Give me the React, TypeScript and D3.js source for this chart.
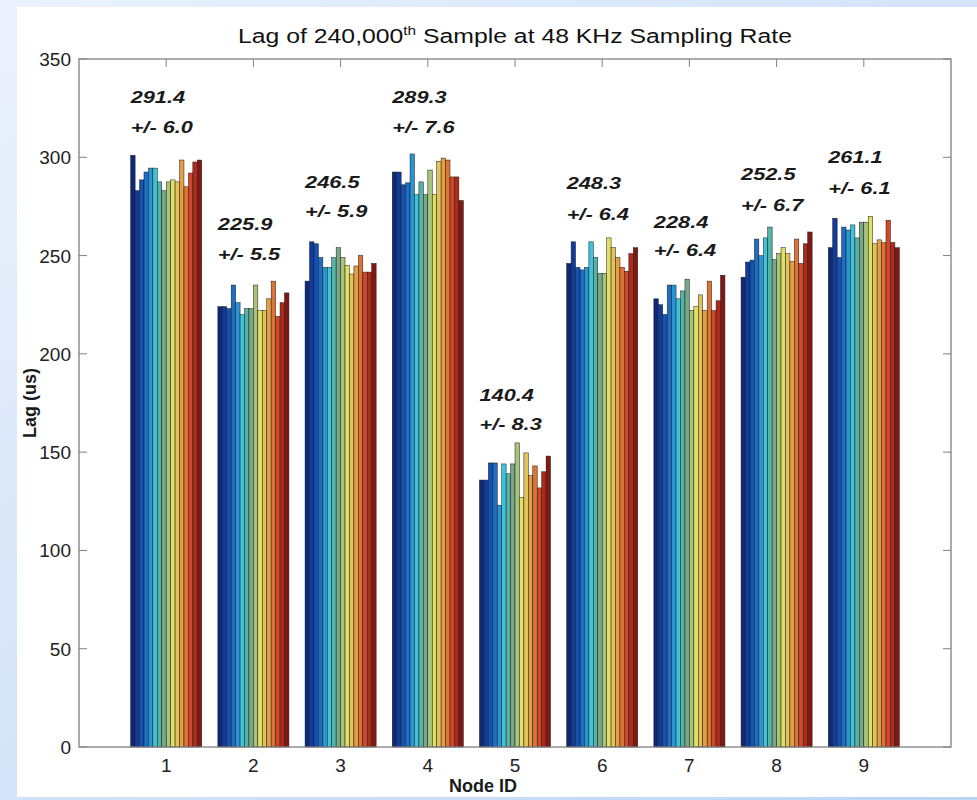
import React from 'react';
import * as d3 from 'd3';

// lag (us) of each of the 16 runs, per node
const node1 = [301, 283, 288.5, 292.5, 294.5, 294.5, 287.5, 283, 287.5, 288.5, 287.5, 298.6, 285, 292, 297.6, 298.6];
const node2 = [224, 224, 223, 235, 226, 220, 223, 223, 235, 222, 222, 228, 237, 219, 226, 231];
const node3 = [237, 257, 256, 249, 244, 244, 249, 254, 249, 245, 240.6, 244.7, 250, 241.6, 241.6, 246];
const node4 = [292.5, 292.5, 286, 287, 301.7, 281, 287.5, 281, 293.5, 281, 298, 299.6, 298.6, 290, 290, 278];
const node5 = [135.8, 135.8, 144.5, 144.5, 123, 144, 139, 144, 154.7, 127, 149.6, 138, 143, 131.8, 140, 148];
const node6 = [246, 257, 244, 242.7, 244, 257, 249, 241, 241, 259, 254, 249, 244, 242, 251, 254];
const node7 = [228, 225, 220, 235, 235, 228, 232, 238, 222, 224, 230, 222, 237, 222, 227, 240];
const node8 = [239, 246.7, 247.7, 258.4, 250, 259, 264.5, 248, 251, 254, 251, 247, 258.4, 246, 256, 262];
const node9 = [254, 269, 249, 264.5, 263, 265.6, 259, 267, 267, 270, 256, 258, 256.6, 268, 256.6, 254];
const nodes = [node1, node2, node3, node4, node5, node6, node7, node8, node9];

const nodeIds = [1, 2, 3, 4, 5, 6, 7, 8, 9];
const meanLabels = ['291.4', '225.9', '246.5', '289.3', '140.4', '248.3', '228.4', '252.5', '261.1'];
const stdLabels = ['+/- 6.0', '+/- 5.5', '+/- 5.9', '+/- 7.6', '+/- 8.3', '+/- 6.4', '+/- 6.4', '+/- 6.7', '+/- 6.1'];
// where the two annotation lines sit, in lag units
const meanLabelAt = [327.6, 263, 284.4, 327.6, 176, 283.9, 264, 288.4, 297.1];
const stdLabelAt = [312.4, 247.7, 269.6, 312.4, 161.3, 268.1, 249.8, 272.7, 281.3];

const yTicks = [0, 50, 100, 150, 200, 250, 300, 350];

// muted jet colormap, 16 steps
const runColors = [
  '#0c2878', '#0f3c9e', '#1452b4', '#1d6ec6', '#2b95d4', '#3cc4dc', '#55b3a8', '#79a887',
  '#a7c47a', '#e2e064', '#e4c45a', '#e49e44', '#de7434', '#d2462a', '#b02a1c', '#821812',
];

const FONT = '"Liberation Sans", Arial, Helvetica, sans-serif';

export default function App() {
  const left = 79, right = 951, top = 59, bottom = 747;

  const x = d3.scaleLinear().domain([0, 10]).range([left, right]);
  const y = d3.scaleLinear().domain([0, 350]).range([bottom, top]);
  const groupW = x(0.815) - x(0);
  const inner = d3.scaleBand<number>()
    .domain(d3.range(16))
    .range([-groupW / 2, groupW / 2])
    .padding(0);

  const axisColor = '#808080';
  const tickLen = 8;

  return (
    <svg width={977} height={800} style={{ position: 'absolute', left: 0, top: 0 }}>
      <defs>
        <linearGradient id="bg" x1="0" y1="0" x2="1" y2="1">
          <stop offset="0%" stopColor="#eaf2fd" />
          <stop offset="100%" stopColor="#bcd5f6" />
        </linearGradient>
      </defs>
      <rect x={0} y={0} width={977} height={800} fill="url(#bg)" />
      <rect x={17} y={7} width={960} height={790} fill="#fff" />

      {/* ticks under the bars */}
      <g stroke={axisColor} strokeWidth={1}>
        {yTicks.map((t) => (
          <g key={'yt' + t}>
            <line x1={left} x2={left + tickLen} y1={y(t)} y2={y(t)} />
            <line x1={right} x2={right - tickLen} y1={y(t)} y2={y(t)} />
          </g>
        ))}
        {nodeIds.map((n) => (
          <g key={'xt' + n}>
            <line x1={x(n)} x2={x(n)} y1={bottom} y2={bottom - tickLen} />
            <line x1={x(n)} x2={x(n)} y1={top} y2={top + tickLen} />
          </g>
        ))}
      </g>

      {/* bars */}
      {nodes.map((runs, gi) => (
        <g key={'g' + gi} transform={`translate(${x(nodeIds[gi])},0)`}>
          {runs.map((v, ri) => (
            <rect
              key={ri}
              x={inner(ri)}
              y={y(v)}
              width={inner.bandwidth()}
              height={y(0) - y(v)}
              fill={runColors[ri]}
              stroke="#1a1a1a"
              strokeWidth={0.5}
            />
          ))}
        </g>
      ))}

      {/* axes box */}
      <rect x={left} y={top} width={right - left} height={bottom - top} fill="none" stroke={axisColor} strokeWidth={1.3} />

      {/* tick labels */}
      <g fontFamily={FONT} fontSize={19} fill="#222">
        {yTicks.map((t) => (
          <text key={'yl' + t} x={left - 8} y={y(t) + 7} textAnchor="end">{t}</text>
        ))}
        {nodeIds.map((n) => (
          <text key={'xl' + n} x={x(n)} y={bottom + 25} textAnchor="middle">{n}</text>
        ))}
      </g>

      {/* annotations */}
      <g fontFamily={FONT} fontSize={17} fontWeight="bold" fontStyle="italic" fill="#1a1a1a">
        {nodeIds.map((n, i) => (
          <g key={'an' + n}>
            <text transform={`translate(${x(n) - groupW / 2},${y(meanLabelAt[i])}) scale(1.28,1)`}>{meanLabels[i]}</text>
            <text transform={`translate(${x(n) - groupW / 2},${y(stdLabelAt[i])}) scale(1.28,1)`}>{stdLabels[i]}</text>
          </g>
        ))}
      </g>

      {/* title */}
      <text transform={`translate(${(left + right) / 2},43) scale(1.18,1)`} textAnchor="middle" fontFamily={FONT} fontSize={21} fill="#111">
        Lag of 240,000<tspan dy={-8} fontSize={13}>th</tspan><tspan dy={8}> Sample at 48 KHz Sampling Rate</tspan>
      </text>

      {/* axis labels */}
      <text transform={`translate(36,${(top + bottom) / 2}) rotate(-90)`} textAnchor="middle" fontFamily={FONT} fontSize={18} fontWeight="bold" fill="#1a1a1a">
        Lag (us)
      </text>
      <text x={483} y={792} textAnchor="middle" fontFamily={FONT} fontSize={18} fontWeight="bold" fill="#1a1a1a">
        Node ID
      </text>
    </svg>
  );
}
